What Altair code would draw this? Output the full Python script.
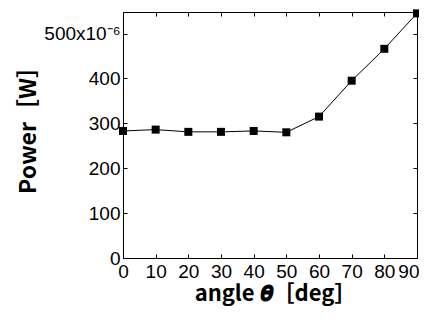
import altair as alt
import pandas as pd

angles = [0, 10, 20, 30, 40, 50, 60, 70, 80, 90]
power = [283, 286, 281, 281, 283, 280, 315, 395, 466, 545]
x_ticks = [0, 10, 20, 30, 40, 50, 60, 70, 80, 90]
y_ticks = [0, 100, 200, 300, 400, 500]
x_title = "angle 𝜽［deg］"
y_title = "Power［W］"

df = pd.DataFrame({"angle": angles, "power": power})

LABEL_FONT = "Liberation Sans"
TITLE_FONT = "Noto Sans CJK JP"

xscale = alt.Scale(domain=[0, 90], nice=False, zero=False)
yscale = alt.Scale(domain=[0, 548], nice=False)

common = dict(domain=False, grid=False, tickSize=4, tickColor="black", tickWidth=1,
              labelFont=LABEL_FONT, labelFontSize=19, labelColor="black",
              labelOverlap=False, labelFlush=False)

x_bottom = alt.Axis(orient="bottom", values=x_ticks, offset=-4, labelPadding=4,
                    labelAlign={"condition": {"test": "datum.value == 90", "value": "right"},
                                "value": "center"},
                    labelOffset={"condition": {"test": "datum.value == 90", "value": 2},
                                 "value": 0},
                    title=x_title, titleFont=TITLE_FONT, titleFontSize=22, titleLimit=1000,
                    titleX=152,
                    titleFontWeight="bold", titleColor="black", titlePadding=2, **common)
y_left = alt.Axis(orient="left", values=y_ticks, offset=-4, labelPadding=3,
                  labelExpr="datum.value == 500 ? '500x10⁻⁶' : datum.label",
                  title=y_title, titleFont=TITLE_FONT, titleFontSize=23, titleY=112,
                  titleLimit=1000,
                  titleFontWeight="bold", titleColor="black", titlePadding=3, **common)
x_top = alt.Axis(orient="top", values=x_ticks, offset=-4, labels=False, title=None, **common)
y_right = alt.Axis(orient="right", values=y_ticks, offset=-4, labels=False, title=None, **common)

line = alt.Chart(df).mark_line(color="black", strokeWidth=1).encode(
    x=alt.X("angle:Q", scale=xscale, axis=x_bottom),
    y=alt.Y("power:Q", scale=yscale, axis=y_left),
)
pts = alt.Chart(df).mark_square(size=64, color="black", opacity=1).encode(
    x=alt.X("angle:Q", scale=xscale, axis=x_top),
    y=alt.Y("power:Q", scale=yscale, axis=y_right),
)

chart = alt.layer(line, pts).resolve_axis(x="independent", y="independent").properties(
    width=294, height=246,
    autosize=alt.AutoSizeParams(type="none"),
    padding={"left": 115, "top": 4, "right": 2, "bottom": 54},
).configure_view(stroke="black", strokeWidth=1)

chart.save("out.html", embed_options={"renderer": "svg", "actions": False})
